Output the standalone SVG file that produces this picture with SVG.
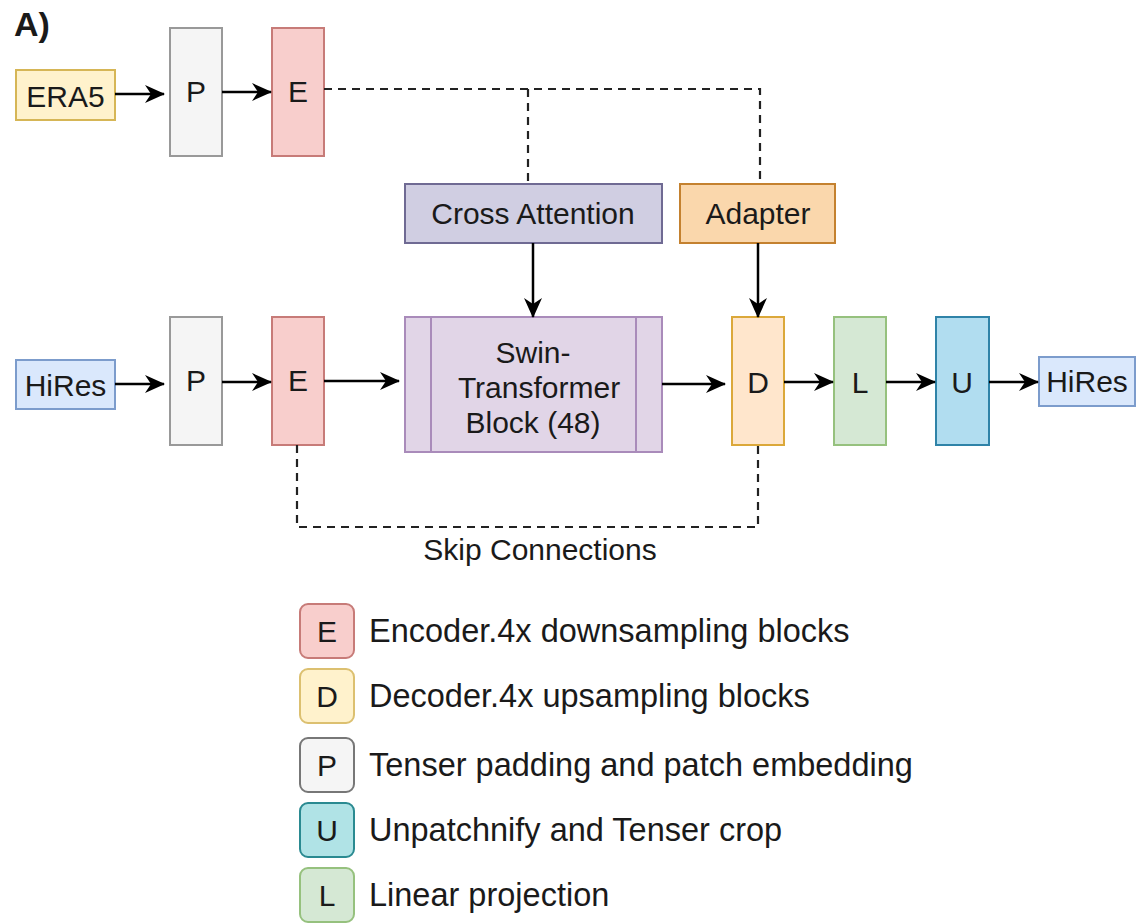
<svg xmlns="http://www.w3.org/2000/svg" width="1136" height="924" viewBox="0 0 1136 924">
<defs>
<marker id="arr" viewBox="0 0 20 20" refX="19" refY="10" markerWidth="20" markerHeight="20" markerUnits="userSpaceOnUse" orient="auto">
<path d="M0,1 L20,10 L0,19 L6,10 Z" fill="#000"/>
</marker>
</defs>
<style>
text{font-family:"Liberation Sans",Arial,sans-serif;fill:#1a1a1a;}
.lbl{font-size:30px;text-anchor:middle;dominant-baseline:central;}
.leg{font-size:32.5px;dominant-baseline:central;}
.box{stroke-width:2;}
.edge{fill:none;stroke:#000;stroke-width:2.5;marker-end:url(#arr);}
.dash{fill:none;stroke:#222;stroke-width:2.2;stroke-dasharray:8,6;}
</style>
<rect width="1136" height="924" fill="#fff"/>
<text x="14" y="36" style="font-size:34px;font-weight:bold;">A)</text>

<g id="era5"><rect class="box" x="16" y="70" width="99" height="50" fill="#fff2cc" stroke="#d6b656"/><text class="lbl" x="65.5" y="96">ERA5</text></g>
<g id="p-top"><rect class="box" x="170" y="28" width="52" height="128" fill="#f5f5f5" stroke="#999"/><text class="lbl" x="196" y="91">P</text></g>
<g id="e-top"><rect class="box" x="272" y="28" width="52" height="128" fill="#f8cecc" stroke="#c77b78"/><text class="lbl" x="298" y="91">E</text></g>
<g id="cross-attention"><rect class="box" x="405" y="184" width="257" height="59" fill="#d0cee2" stroke="#6f6a93"/><text class="lbl" x="533" y="213">Cross Attention</text></g>
<g id="adapter"><rect class="box" x="680" y="184" width="155" height="59" fill="#fad7ac" stroke="#c4812f"/><text class="lbl" x="758" y="213">Adapter</text></g>

<g id="hires-in"><rect class="box" x="16" y="360" width="99" height="49" fill="#dae8fc" stroke="#7c9ccc"/><text class="lbl" x="65.5" y="385">HiRes</text></g>
<g id="p-bot"><rect class="box" x="170" y="317" width="52" height="128" fill="#f5f5f5" stroke="#999"/><text class="lbl" x="196" y="380">P</text></g>
<g id="e-bot"><rect class="box" x="272" y="317" width="52" height="128" fill="#f8cecc" stroke="#c77b78"/><text class="lbl" x="298" y="380">E</text></g>
<g id="swin"><rect class="box" x="405" y="317" width="257" height="135" fill="#e1d5e7" stroke="#a98bba"/><line x1="431" y1="317" x2="431" y2="452" stroke="#a98bba" stroke-width="2"/><line x1="636" y1="317" x2="636" y2="452" stroke="#a98bba" stroke-width="2"/><text class="lbl" x="533" y="352">Swin-</text><text class="lbl" x="539" y="387">Transformer</text><text class="lbl" x="533" y="422">Block (48)</text></g>
<g id="d"><rect class="box" x="732" y="317" width="52" height="128" fill="#ffe6cc" stroke="#dba83a"/><text class="lbl" x="758" y="382">D</text></g>
<g id="l"><rect class="box" x="834" y="317" width="52" height="128" fill="#d5e8d4" stroke="#96c17e"/><text class="lbl" x="860" y="382">L</text></g>
<g id="u"><rect class="box" x="936" y="317" width="53" height="128" fill="#b1ddf0" stroke="#2f83a8"/><text class="lbl" x="962" y="382">U</text></g>
<g id="hires-out"><rect class="box" x="1039" y="357" width="96" height="49" fill="#dae8fc" stroke="#7c9ccc"/><text class="lbl" x="1087" y="381">HiRes</text></g>

<g id="connectors">
<line class="edge" x1="115" y1="94" x2="164" y2="94"/>
<line class="edge" x1="222" y1="92" x2="271" y2="92"/>
<line class="edge" x1="115" y1="384" x2="164" y2="384"/>
<line class="edge" x1="222" y1="382" x2="271" y2="382"/>
<line class="edge" x1="324" y1="381" x2="399" y2="381"/>
<line class="edge" x1="662" y1="384" x2="725" y2="384"/>
<line class="edge" x1="784" y1="382" x2="833" y2="382"/>
<line class="edge" x1="886" y1="382" x2="935" y2="382"/>
<line class="edge" x1="989" y1="382" x2="1038" y2="382"/>
<line class="edge" x1="533" y1="243" x2="533" y2="317"/>
<line class="edge" x1="758" y1="243" x2="758" y2="317"/>
<polyline class="dash" points="324,89 760,89 760,184"/>
<line class="dash" x1="528" y1="89" x2="528" y2="184"/>
<polyline class="dash" points="297,445 297,527 758,527 758,445"/>
</g>
<text x="540" y="549" style="font-size:30px;text-anchor:middle;dominant-baseline:central;">Skip Connections</text>

<g id="legend-e"><rect class="box" x="300" y="604" width="54" height="54" rx="8" fill="#f8cecc" stroke="#c77b78"/><text class="lbl" x="327" y="631">E</text><text class="leg" x="369" y="631">Encoder.4x downsampling blocks</text></g>
<g id="legend-d"><rect class="box" x="300" y="669" width="54" height="54" rx="8" fill="#fff2cc" stroke="#dcc070"/><text class="lbl" x="327" y="696">D</text><text class="leg" x="369" y="696">Decoder.4x upsampling blocks</text></g>
<g id="legend-p"><rect class="box" x="300" y="738" width="54" height="54" rx="8" fill="#f5f5f5" stroke="#777"/><text class="lbl" x="327" y="765">P</text><text class="leg" x="369" y="765">Tenser padding and patch embedding</text></g>
<g id="legend-u"><rect class="box" x="300" y="803" width="54" height="54" rx="8" fill="#b0e3e6" stroke="#2a8a91"/><text class="lbl" x="327" y="830">U</text><text class="leg" x="369" y="830">Unpatchnify and Tenser crop</text></g>
<g id="legend-l"><rect class="box" x="300" y="868" width="54" height="54" rx="8" fill="#d5e8d4" stroke="#96c17e"/><text class="lbl" x="327" y="895">L</text><text class="leg" x="369" y="895">Linear projection</text></g>
</svg>
